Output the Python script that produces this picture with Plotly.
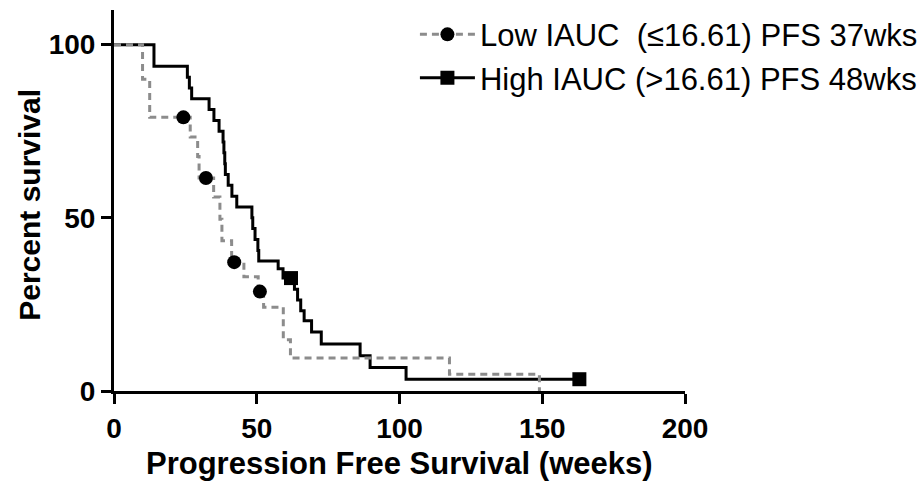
import plotly.graph_objects as go

# High IAUC (>16.61) - Kaplan-Meier steps
high_t = [0, 14, 25.7, 26.4, 27.2, 33.3, 35.0, 36.8, 38.2, 38.5, 38.8, 39.0, 40.0, 41.3, 43.0,
          48.3, 48.6, 49.4, 50.4, 50.7, 57.5, 59.2, 63.2, 64.3, 65.4, 66.6, 69.2, 72.6,
          86.2, 89.7, 102.3, 163]
high_s = [100, 93.75, 90.6, 87.5, 84.4, 81.25, 78.1, 75.0, 71.9, 68.75, 65.6, 62.5, 59.4, 56.25, 53.1,
          50.0, 46.9, 43.75, 40.6, 37.5, 35.3, 32.6, 29.4, 26.3, 23.2, 20.3, 17.0, 13.6,
          10.2, 6.8, 3.4, 3.4]
high_cens_t = [62.0, 163.0]
high_cens_s = [32.6, 3.4]

# Low IAUC (<=16.61) - Kaplan-Meier steps
low_t = [0, 10, 12.5, 26.7, 29.3, 29.8, 34.9, 37.1, 37.8, 41.2, 45.5, 50.5, 52.4, 59.3, 61.8, 117.5, 149]
low_s = [100, 90, 79, 73.3, 67.7, 61.5, 56.0, 49.6, 43.4, 37.2, 33.0, 28.7, 24.2, 14.8, 9.5, 4.8, 0]
low_cens_t = [24.3, 32.2, 42.1, 51.1]
low_cens_s = [79.0, 61.5, 37.2, 28.7]

x_ticks = [0, 50, 100, 150, 200]
y_ticks = [0, 50, 100]

low_name = "Low IAUC  (≤16.61) PFS 37wks"
high_name = "High IAUC (>16.61) PFS 48wks"

GRAY = "#8c8c8c"
FONT = "Liberation Sans, Arial, sans-serif"

fig = go.Figure()
fig.add_trace(go.Scatter(x=high_t, y=high_s, mode="lines", line=dict(color="black", width=3, shape="hv"),
                         showlegend=False, hoverinfo="skip"))
fig.add_trace(go.Scatter(x=low_t, y=low_s, mode="lines",
                         line=dict(color=GRAY, width=3, shape="hv", dash="7px,5px"),
                         showlegend=False, hoverinfo="skip"))
fig.add_trace(go.Scatter(x=low_cens_t, y=low_cens_s, mode="markers",
                         marker=dict(color="black", size=14, symbol="circle"),
                         showlegend=False, cliponaxis=False))
fig.add_trace(go.Scatter(x=high_cens_t, y=high_cens_s, mode="markers",
                         marker=dict(color="black", size=14, symbol="square"),
                         showlegend=False, cliponaxis=False))
# legend entries
fig.add_trace(go.Scatter(x=[None], y=[None], mode="lines+markers", name=low_name,
                         line=dict(color=GRAY, width=3, dash="7px,5px"),
                         marker=dict(color="black", size=14, symbol="circle")))
fig.add_trace(go.Scatter(x=[None], y=[None], mode="lines+markers", name=high_name,
                         line=dict(color="black", width=3),
                         marker=dict(color="black", size=14, symbol="square")))

axis_common = dict(showline=True, linecolor="black", linewidth=3, ticks="outside", ticklen=10,
                   tickwidth=3, tickcolor="black", showgrid=False, zeroline=False,
                   tickfont=dict(family=FONT, size=28, color="black", weight="bold"))
fig.update_xaxes(range=[0, 200], tickvals=x_ticks, **axis_common)
fig.update_yaxes(range=[0, 110], tickvals=y_ticks, **axis_common)

fig.add_annotation(text="<b>Progression Free Survival (weeks)</b>", xref="paper", yref="paper",
                   x=0.5, y=-0.19, xanchor="center", yanchor="middle", showarrow=False,
                   font=dict(family=FONT, size=31, color="black"))
fig.add_annotation(text="<b>Percent survival</b>", xref="paper", yref="paper",
                   x=-0.147, y=0.489, xanchor="center", yanchor="middle", showarrow=False,
                   textangle=-90, font=dict(family=FONT, size=30, color="black"))

fig.update_layout(
    width=924, height=484,
    margin=dict(l=114, r=239, t=10, b=93, autoexpand=False),
    paper_bgcolor="white", plot_bgcolor="white",
    legend=dict(x=0.527, y=1.006, xanchor="left", yanchor="top",
                font=dict(family=FONT, size=31, color="black"),
                bgcolor="rgba(0,0,0,0)", tracegroupgap=0, itemwidth=55),
    showlegend=True,
)

fig.write_html("out.html")
